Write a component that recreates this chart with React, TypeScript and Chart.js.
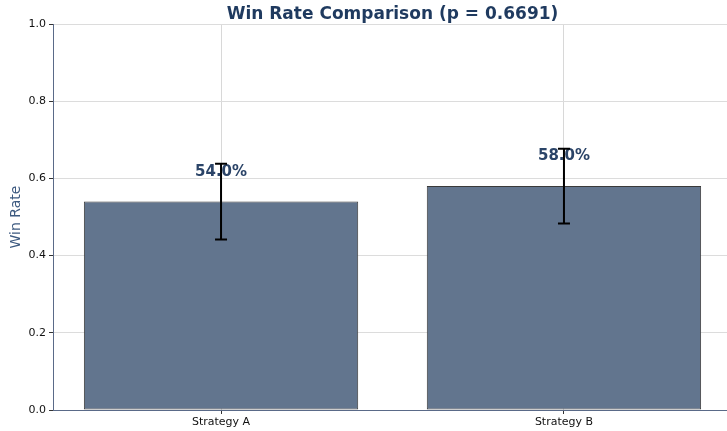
import React, { useEffect, useRef } from "react";
import { Chart, registerables } from "chart.js";

Chart.register(...registerables);

const categories = ["Strategy A", "Strategy B"];
const winRates = [0.54, 0.58];
const errLow = [0.442, 0.483];
const errHigh = [0.638, 0.677];
const yTicks = [0, 0.2, 0.4, 0.6, 0.8, 1.0];
const titleText = "Win Rate Comparison (p = 0.6691)";
const yTitle = "Win Rate";

const FONT = "'DejaVu Sans', sans-serif";

const overlay = {
  id: "overlay",
  afterDatasetsDraw(chart: any) {
    const { ctx, chartArea, scales } = chart;
    const xs = scales.x;
    const ys = scales.y;
    ctx.save();
    // value labels
    ctx.font = `bold 15px ${FONT}`;
    ctx.fillStyle = "#2b4468";
    ctx.textAlign = "center";
    ctx.textBaseline = "alphabetic";
    winRates.forEach((v, i) => {
      const x = xs.getPixelForValue(i);
      const y = ys.getPixelForValue(v + 0.067);
      ctx.fillText((v * 100).toFixed(1) + "%", x, y);
    });
    // error bars
    ctx.strokeStyle = "#000";
    ctx.lineWidth = 2;
    winRates.forEach((v, i) => {
      const x = xs.getPixelForValue(i);
      const y1 = ys.getPixelForValue(errLow[i]);
      const y2 = ys.getPixelForValue(errHigh[i]);
      ctx.beginPath();
      ctx.moveTo(x, y1);
      ctx.lineTo(x, y2);
      ctx.moveTo(x - 6, y1);
      ctx.lineTo(x + 6, y1);
      ctx.moveTo(x - 6, y2);
      ctx.lineTo(x + 6, y2);
      ctx.stroke();
    });
    // title
    ctx.font = `bold 17px ${FONT}`;
    ctx.fillStyle = "#1f3a5f";
    ctx.textAlign = "center";
    ctx.fillText(titleText, (chartArea.left + chartArea.right) / 2, 19);
    // y axis title
    ctx.font = `14px ${FONT}`;
    ctx.fillStyle = "#3d5a80";
    ctx.translate(16, (chartArea.top + chartArea.bottom) / 2);
    ctx.rotate(-Math.PI / 2);
    ctx.textBaseline = "middle";
    ctx.fillText(yTitle, 0, 0);
    ctx.restore();
  },
};

export default function App() {
  const ref = useRef<HTMLCanvasElement>(null);
  useEffect(() => {
    document.body.style.margin = "0";
    document.body.style.overflow = "hidden";
    const chart = new Chart(ref.current!, {
      type: "bar",
      data: {
        datasets: [
          {
            data: winRates.map((v, i) => ({ x: i, y: v })),
            backgroundColor: "#62758e",
            borderColor: "#3a3a3a",
            borderWidth: 1,
            borderSkipped: false,
            barPercentage: 0.8,
            categoryPercentage: 1.0,
          },
        ],
      },
      options: {
        responsive: false,
        animation: false,
        layout: { padding: { top: 24, left: 0, right: 0, bottom: 0 } },
        plugins: { legend: { display: false }, tooltip: { enabled: false }, title: { display: false } },
        scales: {
          x: {
            type: "linear",
            min: -0.49,
            max: 1.49,
            offset: false,
            afterBuildTicks: (s: any) => {
              s.ticks = categories.map((_, i) => ({ value: i }));
            },
            afterFit: (s: any) => {
              s.height = 21;
            },
            ticks: {
              callback: (v: any) => categories[v] ?? "",
              font: { family: FONT, size: 11 },
              color: "#111",
              padding: 2,
              maxRotation: 0,
            },
            grid: { offset: false, color: "#d8d8d8", tickColor: "#333", tickLength: 4, lineWidth: 1 },
            border: { color: "#5a6a88", width: 1 },
          },
          y: {
            type: "linear",
            min: 0,
            max: 1,
            afterBuildTicks: (s: any) => {
              s.ticks = yTicks.map((v) => ({ value: v }));
            },
            afterFit: (s: any) => {
              s.width = 53;
            },
            ticks: {
              callback: (v: any) => Number(v).toFixed(1),
              font: { family: FONT, size: 11 },
              color: "#111",
              padding: 3,
            },
            grid: { color: "#dcdcdc", tickColor: "#333", tickLength: 4, lineWidth: 1 },
            border: { color: "#5a6a88", width: 1 },
          },
        },
      },
      plugins: [overlay],
    });
    return () => chart.destroy();
  }, []);
  return (
    <div style={{ width: 727, height: 431, overflow: "hidden", background: "#fff" }}>
      <canvas ref={ref} width={732} height={431} style={{ display: "block" }} />
    </div>
  );
}
